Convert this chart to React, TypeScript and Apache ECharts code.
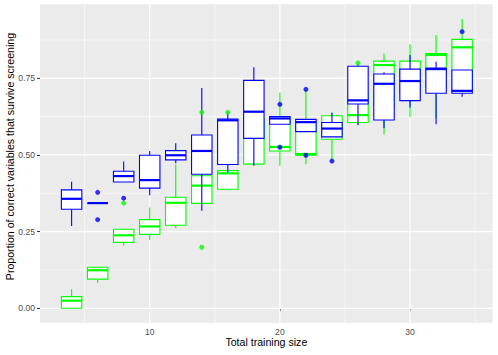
import React, { useEffect, useRef } from "react";
import * as echarts from "echarts";

const xs = [4, 6, 8, 10, 12, 14, 16, 18, 20, 22, 24, 26, 28, 30, 32, 34];

// green group: min, q1, median, q3, max
const greenMin = [0, 0.083, 0.205, 0.223, 0.261, 0.342, 0.386, 0.47, 0.465, 0.47, 0.48, 0.598, 0.567, 0.624, 0.62, 0.7];
const greenQ1 = [0, 0.095, 0.215, 0.241, 0.271, 0.342, 0.388, 0.47, 0.513, 0.499, 0.551, 0.606, 0.66, 0.7, 0.72, 0.705];
const greenMed = [0.025, 0.124, 0.238, 0.267, 0.344, 0.4, 0.44, 0.58, 0.526, 0.503, 0.6, 0.63, 0.793, 0.76, 0.826, 0.851];
const greenQ3 = [0.038, 0.134, 0.258, 0.289, 0.362, 0.432, 0.449, 0.62, 0.622, 0.6, 0.628, 0.7, 0.806, 0.806, 0.831, 0.877];
const greenMax = [0.062, 0.134, 0.258, 0.329, 0.47, 0.432, 0.449, 0.7, 0.704, 0.714, 0.638, 0.78, 0.831, 0.861, 0.891, 0.943];
const greenOutX = [8, 14, 14, 16, 26];
const greenOutY = [0.343, 0.199, 0.639, 0.639, 0.8];

// blue group
const blueMin = [0.268, 0.343, 0.412, 0.369, 0.473, 0.318, 0.443, 0.465, 0.6, 0.576, 0.559, 0.598, 0.587, 0.655, 0.6, 0.69];
const blueQ1 = [0.323, 0.343, 0.412, 0.392, 0.484, 0.437, 0.469, 0.554, 0.6, 0.576, 0.559, 0.666, 0.614, 0.677, 0.701, 0.701];
const blueMed = [0.357, 0.343, 0.431, 0.418, 0.499, 0.513, 0.613, 0.641, 0.619, 0.607, 0.586, 0.678, 0.732, 0.741, 0.78, 0.709];
const blueQ3 = [0.386, 0.343, 0.447, 0.499, 0.514, 0.565, 0.617, 0.743, 0.625, 0.616, 0.606, 0.789, 0.764, 0.78, 0.783, 0.777];
const blueMax = [0.413, 0.343, 0.479, 0.513, 0.538, 0.718, 0.639, 0.786, 0.625, 0.616, 0.638, 0.796, 0.77, 0.826, 0.804, 0.777];
const blueOutX = [6, 6, 8, 20, 20, 22, 22, 24, 34];
const blueOutY = [0.378, 0.289, 0.359, 0.665, 0.525, 0.714, 0.499, 0.48, 0.902];

const xTicks = [10, 20, 30];
const xMinor = [5, 15, 25, 35];
const yTicks = [0, 0.25, 0.5, 0.75];
const yMinor = [0.125, 0.375, 0.625, 0.875];

const X_TITLE = "Total training size";
const Y_TITLE = "Proportion of correct variables that survive screening";

const GREEN = "#00FF00";
const BLUE = "#0000FF";
const BOX_HALF = 0.785;
const FONT = "Liberation Sans";

function boxData(mn: number[], q1: number[], md: number[], q3: number[], mx: number[]) {
  return xs.map((x, i) => [x, mn[i], q1[i], md[i], q3[i], mx[i]]);
}

function boxRenderer(color: string) {
  return (params: any, api: any) => {
    const x = api.value(0);
    const c = api.coord([x, api.value(1)]);
    const pMin = c[1];
    const pQ1 = api.coord([x, api.value(2)])[1];
    const pMed = api.coord([x, api.value(3)])[1];
    const pQ3 = api.coord([x, api.value(4)])[1];
    const pMax = api.coord([x, api.value(5)])[1];
    const left = api.coord([x - BOX_HALF, 0])[0];
    const right = api.coord([x + BOX_HALF, 0])[0];
    const cx = c[0];
    return {
      type: "group",
      children: [
        { type: "line", shape: { x1: cx, y1: pMax, x2: cx, y2: pQ3 }, style: { stroke: color, lineWidth: 1.1 } },
        { type: "line", shape: { x1: cx, y1: pQ1, x2: cx, y2: pMin }, style: { stroke: color, lineWidth: 1.1 } },
        {
          type: "rect",
          shape: { x: left, y: pQ3, width: right - left, height: pQ1 - pQ3 },
          style: { fill: "#FFFFFF", stroke: color, lineWidth: 1.1 },
        },
        { type: "line", shape: { x1: left, y1: pMed, x2: right, y2: pMed }, style: { stroke: color, lineWidth: 2.2 } },
      ],
    };
  };
}

export default function App() {
  const ref = useRef<HTMLDivElement>(null);
  useEffect(() => {
    if (!ref.current) return;
    const chart = echarts.init(ref.current, null, { renderer: "svg" });

    const gridData: number[][] = [
      ...xTicks.map((v) => [v, 0, 0]),
      ...xMinor.map((v) => [v, 0, 1]),
      ...yTicks.map((v) => [10, v, 2]),
      ...yMinor.map((v) => [10, v, 3]),
    ];

    chart.setOption({
      animation: false,
      grid: {
        left: 40,
        right: 5.3,
        top: 4.3,
        bottom: 32,
        show: true,
        backgroundColor: "#EBEBEB",
        borderWidth: 0,
        containLabel: false,
        outerBoundsMode: "none",
      },
      graphic: [
        {
          type: "text",
          x: 9.6,
          y: 156.5,
          rotation: Math.PI / 2,
          silent: true,
          style: {
            text: Y_TITLE,
            font: `10.6px "${FONT}"`,
            fill: "#000000",
            align: "center",
            verticalAlign: "middle",
          },
        },
      ],
      xAxis: {
        type: "value",
        min: 1.571,
        max: 36.35,
        name: X_TITLE,
        nameLocation: "middle",
        nameGap: 13.5,
        nameMoveOverlap: false,
        nameTextStyle: { fontFamily: FONT, fontSize: 10.6, color: "#000000", verticalAlign: "top" },
        axisLine: { show: false },
        axisTick: { show: true, length: 3, customValues: xTicks, lineStyle: { color: "#333333", width: 1 } },
        axisLabel: {
          customValues: xTicks,
          margin: 4.5,
          fontFamily: FONT,
          fontSize: 8.6,
          color: "#4D4D4D",
        },
        splitLine: { show: false },
      },
      yAxis: {
        type: "value",
        min: -0.0479,
        max: 0.9912,
        axisLine: { show: false },
        axisTick: { show: true, length: 3, customValues: yTicks, lineStyle: { color: "#333333", width: 1 } },
        axisLabel: {
          customValues: yTicks,
          margin: 5,
          fontFamily: FONT,
          fontSize: 8.6,
          color: "#4D4D4D",
          formatter: (v: number) => v.toFixed(2),
        },
        splitLine: { show: false },
      },
      series: [
        {
          type: "custom",
          silent: true,
          z: 1,
          data: gridData,
          encode: { x: 0, y: 1 },
          renderItem: (params: any, api: any) => {
            const cs = params.coordSys;
            const kind = api.value(2);
            const major = kind === 0 || kind === 2;
            const style = { stroke: "#FFFFFF", lineWidth: major ? 1.2 : 0.6 };
            if (kind < 2) {
              const px = api.coord([api.value(0), 0])[0];
              return { type: "line", shape: { x1: px, y1: cs.y, x2: px, y2: cs.y + cs.height }, style };
            }
            const py = api.coord([10, api.value(1)])[1];
            return { type: "line", shape: { x1: cs.x, y1: py, x2: cs.x + cs.width, y2: py }, style };
          },
        },
        {
          type: "custom",
          name: "green",
          z: 2,
          data: boxData(greenMin, greenQ1, greenMed, greenQ3, greenMax),
          encode: { x: 0, y: [1, 2, 3, 4, 5] },
          renderItem: boxRenderer(GREEN),
        },
        {
          type: "custom",
          name: "blue",
          z: 3,
          data: boxData(blueMin, blueQ1, blueMed, blueQ3, blueMax),
          encode: { x: 0, y: [1, 2, 3, 4, 5] },
          renderItem: boxRenderer(BLUE),
        },
        {
          type: "scatter",
          z: 4,
          symbol: "circle",
          symbolSize: 5,
          itemStyle: { color: GREEN },
          data: greenOutX.map((x, i) => [x, greenOutY[i]]),
        },
        {
          type: "scatter",
          z: 5,
          symbol: "circle",
          symbolSize: 5,
          itemStyle: { color: BLUE },
          data: blueOutX.map((x, i) => [x, blueOutY[i]]),
        },
      ],
    });
    return () => chart.dispose();
  }, []);
  return (
    <div
      ref={ref}
      style={{ position: "fixed", left: 0, top: 0, width: 498, height: 355, background: "#FFFFFF" }}
    />
  );
}
